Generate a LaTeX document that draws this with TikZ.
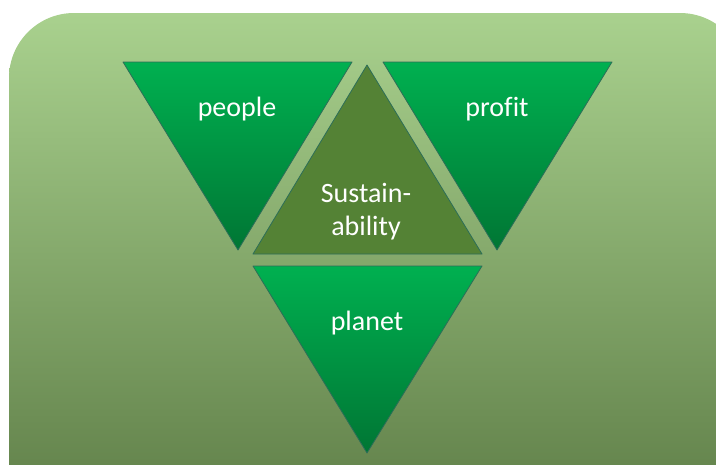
\documentclass[tikz,border=0pt]{standalone}
\usepackage{fontspec}
\setmainfont{Carlito}[Ligatures=NoCommon]
\definecolor{bgtop}{RGB}{169,209,142}
\definecolor{bgbot}{RGB}{91,122,68}
\definecolor{tritop}{RGB}{0,176,80}
\definecolor{tribot}{RGB}{0,118,52}
\definecolor{triline}{RGB}{45,110,88}
\definecolor{core}{RGB}{84,130,53}
\begin{document}
\begin{tikzpicture}[x=1pt,y=-1pt,
    tri/.style={top color=tritop,bottom color=tribot,draw=triline,line width=0.8pt,line join=round},
    lbl/.style={text=white,font=\fontsize{28}{33}\selectfont,align=center}
  ]
		\useasboundingbox (0,0) rectangle (716,464);
		\shade[top color=bgtop,bottom color=bgbot,rounded corners=65pt] (9,13) rectangle (745,540);

		\shade[tri] (123,62) -- (352,62) -- (238,250) -- cycle;
		\shade[tri] (383,62) -- (612,62) -- (497,250) -- cycle;
		\shade[tri] (253,266) -- (482,266) -- (367,453) -- cycle;
		\filldraw[fill=core,draw=triline,line width=0.8pt,line join=round] (367,65) -- (482,254) -- (253,254) -- cycle;

		\node[lbl,anchor=base] at (237,116) (people) {people};
		\node[lbl,anchor=base] at (497,116) (profit) {profit};
		\node[lbl] at (366,212) (sust) {Sustain-\\ability};
		\node[lbl,anchor=base] at (367,330) (planet) {planet};
	\end{tikzpicture}
\end{document}
